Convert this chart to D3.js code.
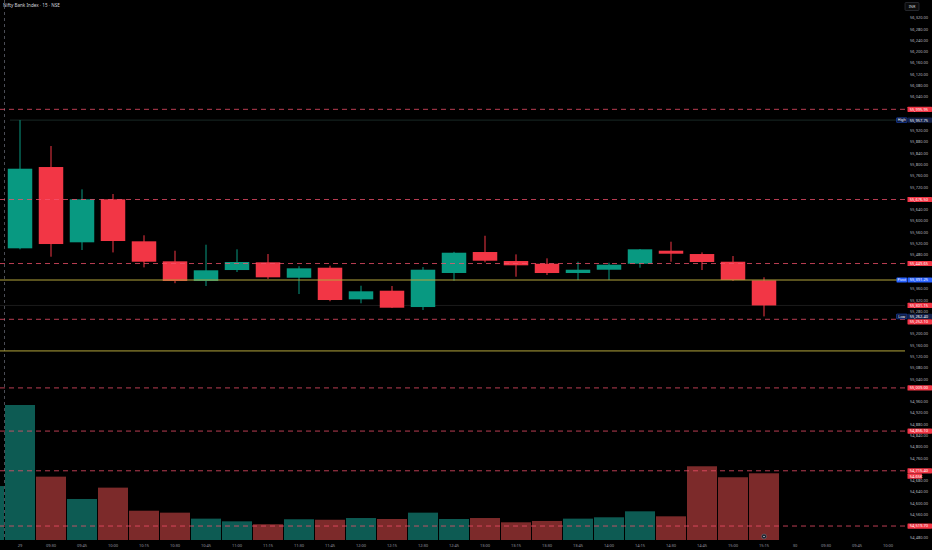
<!DOCTYPE html>
<html>
<head>
<meta charset="utf-8">
<script src="https://cdn.jsdelivr.net/npm/d3@7"></script>
<style>
  html, body { margin: 0; padding: 0; background: #000; }
  svg { display: block; }
  text { font-family: "Noto Sans", "DejaVu Sans", sans-serif; }
</style>
</head>
<body>
<div id="chart"></div>
<script>
var width = 932, height = 550;
var plotRight = 905, plotBottom = 540;

// 15 min candles, 29th
var times = ["09:15","09:30","09:45","10:00","10:15","10:30","10:45","11:00","11:15","11:30","11:45","12:00","12:15",
             "12:30","12:45","13:00","13:15","13:30","13:45","14:00","14:15","14:30","14:45","15:00","15:15"];
var open  = [55503.5,55791.5,55524.8,55677.1,55528.3,55457.4,55387.7,55426.6,55453.9,55399.3,55434.8,55322.8,55353.3,
             55295.5,55416.1,55490.4,55458.5,55448.9,55416.0,55427.7,55448.9,55495.0,55483.3,55456.0,55390.1];
var high  = [55957.75,55865.9,55712.5,55695.9,55549.6,55495.0,55516.3,55500.0,55483.3,55440.0,55442.0,55371.0,55370.0,
             55437.0,55491.0,55548.0,55482.0,55468.0,55456.0,55452.5,55501.0,55526.9,55489.0,55476.2,55400.8];
var low   = [55500.0,55473.7,55497.5,55489.0,55436.0,55380.0,55370.0,55419.6,55395.0,55341.6,55316.0,55308.7,55292.0,
             55285.0,55388.7,55454.0,55402.9,55408.9,55391.0,55391.0,55434.8,55456.0,55426.6,55388.0,55262.4];
var close = [55785.5,55518.7,55677.1,55529.4,55456.0,55387.7,55425.6,55455.0,55400.8,55432.6,55320.4,55351.2,55293.1,
             55427.7,55487.9,55459.6,55443.3,55416.0,55427.7,55445.4,55500.0,55484.4,55455.0,55391.2,55301.15];
// volume in thousands
var volume = [110.6,51.9,33.6,42.9,24.0,22.4,17.5,15.3,12.9,17.0,16.6,18.0,17.2,
              22.4,17.2,18.0,14.5,15.6,17.5,18.6,23.5,19.4,60.4,51.4,54.65];
var prevVolume = 44.2; // last bar of previous session, partly visible

var xLabels = ["29","09:30","09:45","10:00","10:15","10:30","10:45","11:00","11:15","11:30","11:45","12:00","12:15",
               "12:30","12:45","13:00","13:15","13:30","13:45","14:00","14:15","14:30","14:45","15:00","15:15",
               "30","09:30","09:45","10:00"];

// drawn levels
var levelValues = [55995.95, 55676.50, 55449.65, 55252.10, 55009.00, 54856.10, 54715.40, 54519.70];
var pivotValues = [55391.25, 55140.00];
var highValue = 55957.75, lowValue = 55262.40;

var tickValues = d3.range(54480, 56321, 40);

var up = "#089981", down = "#f23645";
var upVol = "#0d5b53", downVol = "#7c2a2a";

var svg = d3.select("#chart")
    .append("svg")
    .attr("width", width)
    .attr("height", height)
    .style("background", "#000");

var x = d3.scaleLinear().domain([0, 28]).range([20, 888]);
var step = x(1) - x(0);
var y = d3.scaleLinear().domain([54470.2, 56383.2]).range([plotBottom, 0]);
var yVol = d3.scaleLinear().domain([0, d3.max(volume)]).range([plotBottom, 405]);

var data = times.map(function (t, i) {
    return { i: i, t: t, o: open[i], h: high[i], l: low[i], c: close[i], v: volume[i] };
});

// session break
svg.append("line")
    .attr("x1", x(-0.5)).attr("x2", x(-0.5))
    .attr("y1", 0).attr("y2", plotBottom)
    .attr("stroke", "#5d606b").attr("stroke-width", 0.8)
    .attr("stroke-dasharray", "3,3");

// volume bars
var volData = [{ i: -1, v: prevVolume, up: true }].concat(data.map(function (d) {
    return { i: d.i, v: d.v, up: d.c >= d.o };
}));
svg.selectAll(".vol")
    .data(volData)
    .enter()
    .append("rect")
    .attr("class", "vol")
    .attr("x", function (d) { return x(d.i) - step / 2 + 0.5; })
    .attr("width", step - 1)
    .attr("y", function (d) { return yVol(d.v); })
    .attr("height", function (d) { return plotBottom - yVol(d.v); })
    .attr("fill", function (d) { return d.up ? upVol : downVol; });

// thin lines for high and last price
svg.append("line")
    .attr("x1", 10).attr("x2", plotRight)
    .attr("y1", y(highValue)).attr("y2", y(highValue))
    .attr("stroke", "#1f3330").attr("stroke-width", 0.8);
svg.append("line")
    .attr("x1", 0).attr("x2", plotRight)
    .attr("y1", y(close[24])).attr("y2", y(close[24]))
    .attr("stroke", "#222").attr("stroke-width", 0.8);

// candles
var candle = svg.selectAll(".candle")
    .data(data)
    .enter()
    .append("g")
    .attr("class", "candle");

candle.append("line")
    .attr("x1", function (d) { return x(d.i); })
    .attr("x2", function (d) { return x(d.i); })
    .attr("y1", function (d) { return y(d.h); })
    .attr("y2", function (d) { return y(d.l); })
    .attr("stroke", function (d) { return d.c >= d.o ? up : down; })
    .attr("stroke-width", 1);

var bodyW = step * 0.79;
candle.append("rect")
    .attr("x", function (d) { return x(d.i) - bodyW / 2; })
    .attr("width", bodyW)
    .attr("y", function (d) { return y(Math.max(d.o, d.c)); })
    .attr("height", function (d) { return Math.max(1, Math.abs(y(d.o) - y(d.c))); })
    .attr("fill", function (d) { return d.c >= d.o ? up : down; });

// level lines on top
svg.selectAll(".level")
    .data(levelValues)
    .enter()
    .append("line")
    .attr("class", "level")
    .attr("x1", 0).attr("x2", plotRight)
    .attr("y1", function (d) { return y(d); })
    .attr("y2", function (d) { return y(d); })
    .attr("stroke", "rgba(247,82,110,0.75)")
    .attr("stroke-width", 1)
    .attr("stroke-dasharray", "5,4");

svg.selectAll(".pivot")
    .data(pivotValues)
    .enter()
    .append("line")
    .attr("class", "pivot")
    .attr("x1", 0).attr("x2", plotRight)
    .attr("y1", function (d) { return y(d); })
    .attr("y2", function (d) { return y(d); })
    .attr("stroke", "#b3a53c")
    .attr("stroke-width", 1);

// price scale labels, pushed apart so they don't overlap
var fmt = d3.format(",.2f");
var labels = levelValues.map(function (v) { return { y: y(v), text: fmt(v), fill: down }; });
labels.push({ y: y(close[24]), text: fmt(close[24]), fill: down });
labels.push({ y: yVol(volume[24]) + 2, text: d3.format(".2f")(volume[24]) + "K", fill: down, w: 14.5 });
labels.push({ y: y(highValue), text: fmt(highValue), fill: "#13214a", tag: "High", tagFill: "#0f1d45", tagStroke: "#2962ff" });
labels.push({ y: y(pivotValues[0]), text: fmt(pivotValues[0]), fill: "#2962ff", tag: "Pivot", tagFill: "#2962ff" });
labels.push({ y: y(lowValue), text: fmt(lowValue), fill: "#13214a", tag: "Low", tagFill: "#0f1d45", tagStroke: "#2962ff" });

labels.sort(function (a, b) { return a.y - b.y; });
for (var k = 1; k < labels.length; k++) {
    if (labels[k].y < labels[k - 1].y + 5.4) labels[k].y = labels[k - 1].y + 5.4;
}

var axisG = svg.append("g").attr("class", "price-axis");
axisG.selectAll("text")
    .data(tickValues.filter(function (v) {
        return labels.every(function (l) { return Math.abs(l.y - y(v)) > 3.5; });
    }))
    .enter()
    .append("text")
    .attr("x", 910)
    .attr("y", function (d) { return y(d); })
    .attr("dy", "0.35em")
    .attr("font-size", 4)
    .attr("fill", "#b2b5be")
    .text(function (d) { return fmt(d); });

var lab = svg.selectAll(".plabel")
    .data(labels)
    .enter()
    .append("g")
    .attr("class", "plabel")
    .attr("transform", function (d) { return "translate(0," + d.y + ")"; });

lab.append("rect")
    .attr("x", 907.5).attr("y", -2.6)
    .attr("width", function (d) { return d.w || 24.5; }).attr("height", 5.2)
    .attr("rx", 0.6)
    .attr("fill", function (d) { return d.fill; });
lab.append("text")
    .attr("x", 909.8)
    .attr("dy", "0.35em")
    .attr("font-size", 4)
    .attr("fill", "#fff")
    .text(function (d) { return d.text; });

var tags = lab.filter(function (d) { return d.tag; });
tags.append("rect")
    .attr("x", 896.5).attr("y", -2.4)
    .attr("width", 10.5).attr("height", 4.8)
    .attr("rx", 0.6)
    .attr("fill", function (d) { return d.tagFill; })
    .attr("stroke", function (d) { return d.tagStroke || "none"; })
    .attr("stroke-width", 0.4);
tags.append("text")
    .attr("x", 901.75)
    .attr("dy", "0.35em")
    .attr("text-anchor", "middle")
    .attr("font-size", 3.6)
    .attr("fill", "#fff")
    .text(function (d) { return d.tag; });

// time axis
svg.selectAll(".xlab")
    .data(xLabels)
    .enter()
    .append("text")
    .attr("class", "xlab")
    .attr("x", function (d, i) { return x(i); })
    .attr("y", 545.5)
    .attr("dy", "0.35em")
    .attr("text-anchor", "middle")
    .attr("font-size", 4)
    .attr("fill", "#9598a1")
    .text(function (d) { return d; });

// event marker
svg.append("circle")
    .attr("cx", x(24)).attr("cy", 536.5).attr("r", 2.4)
    .attr("fill", "#131722").attr("stroke", "#787b86").attr("stroke-width", 0.6);
svg.append("circle")
    .attr("cx", x(24)).attr("cy", 536.5).attr("r", 0.8)
    .attr("fill", "#d1d4dc");

// header
svg.append("text")
    .attr("x", 3).attr("y", 6.5)
    .attr("font-size", 4.6)
    .attr("fill", "#d1d4dc")
    .text("Nifty Bank Index · 15 · NSE");

svg.append("rect")
    .attr("x", 905).attr("y", 2.5).attr("width", 14).attr("height", 8)
    .attr("rx", 1)
    .attr("fill", "#0c0c0c").attr("stroke", "#434651").attr("stroke-width", 0.5);
svg.append("text")
    .attr("x", 912).attr("y", 6.5).attr("dy", "0.35em")
    .attr("text-anchor", "middle")
    .attr("font-size", 3.8)
    .attr("fill", "#d1d4dc")
    .text("INR");
</script>
</body>
</html>
